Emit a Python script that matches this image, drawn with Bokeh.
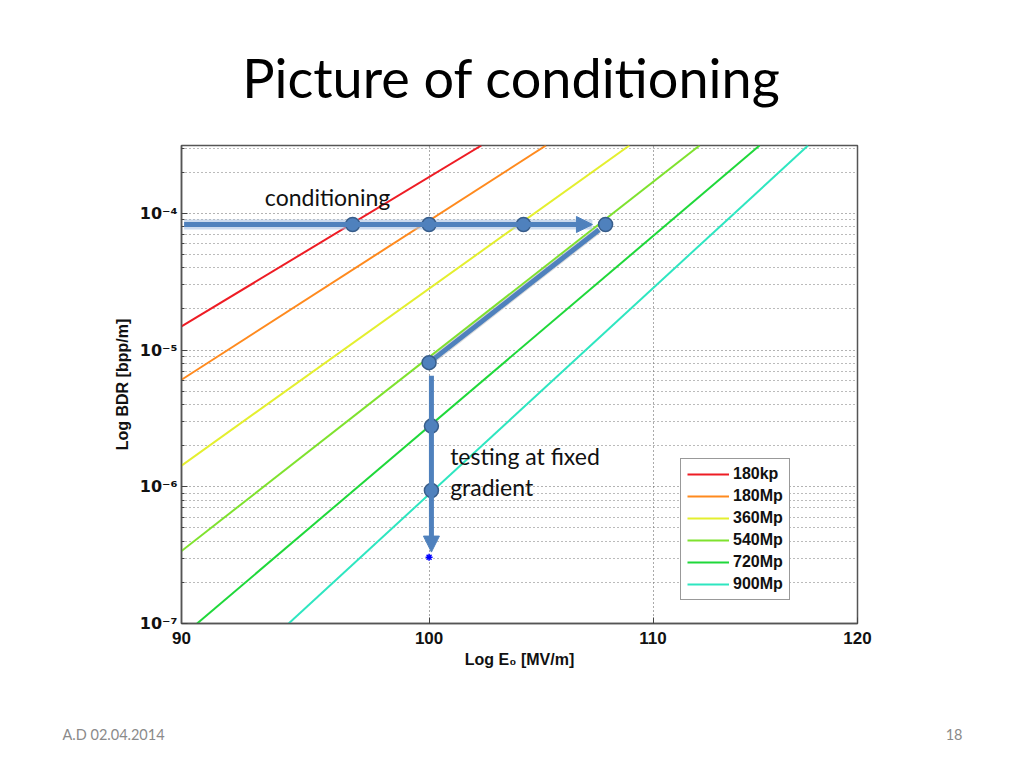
from bokeh.plotting import figure
from bokeh.models import Range1d, FixedTicker, Label, Legend, LegendItem, Arrow, NormalHead
from bokeh.embed import file_html
from bokeh.resources import INLINE

# pulse-count curves, two points: E0 [MV/m] and BDR [bpp/m]
series_names = ["180kp", "180Mp", "360Mp", "540Mp", "720Mp", "900Mp"]
series_colors = ["#ee1c24", "#ff8a1e", "#e4ef2f", "#7fe22e", "#1fd83a", "#2ee6c0"]
line_e = [[90, 102.25], [90, 105.1], [90, 108.9], [90, 112.2], [90.6, 115.1], [94.2, 117.5]]
line_bdr = [[1.49e-5, 3.14e-4], [6.07e-6, 3.14e-4], [1.43e-6, 3.14e-4],
            [3.39e-7, 3.14e-4], [1.0e-7, 3.14e-4], [1.0e-7, 3.14e-4]]

# conditioning path (horizontal), then back down and testing at fixed gradient
cond_e = [96.8, 100.0, 104.1, 107.8]
cond_bdr = [8.3e-5, 8.3e-5, 8.3e-5, 8.3e-5]
cond_arrow_e = [90.1, 107.2]
cond_arrow_bdr = [8.3e-5, 8.3e-5]
back_e = [100.0, 107.5]
back_bdr = [8.1e-6, 7.6e-5]
test_e = [100.0, 100.1, 100.1]
test_bdr = [8.1e-6, 2.78e-6, 9.4e-7]
test_arrow_e = [100.1, 100.1]
test_arrow_bdr = [6.5e-6, 3.33e-7]
star_e = [100.0]
star_bdr = [3.05e-7]

x_ticks = [90, 100, 110, 120]
y_ticks = [1e-7, 1e-6, 1e-5, 1e-4]
y_tick_labels = ["10⁻⁷", "10⁻⁶", "10⁻⁵", "10⁻⁴"]
y_minor = [k * d for d in [1e-7, 1e-6, 1e-5, 1e-4] for k in range(2, 10)]

BLUE = "#4f81bd"
BLUE_DARK = "#385d8a"
AX_FONT = "Liberation Sans"
SLIDE_FONT = "Lato"

p = figure(width=1008, height=752, x_axis_type="log", y_axis_type="log",
           x_range=Range1d(90, 120), y_range=Range1d(1e-7, 3.14e-4),
           output_backend="svg", toolbar_location=None,
           min_border_left=181, min_border_right=151, min_border_top=145, min_border_bottom=129)
p.background_fill_color = "white"
p.border_fill_color = "white"
p.outline_line_color = "#555555"
p.outline_line_width = 1.5

p.xaxis.ticker = FixedTicker(ticks=x_ticks)
p.yaxis.ticker = FixedTicker(ticks=y_ticks, minor_ticks=y_minor)
p.yaxis.major_label_overrides = dict(zip(y_ticks, y_tick_labels))
p.xaxis.major_label_overrides = {t: str(t) for t in x_ticks}

for ax in (p.xaxis, p.yaxis):
    ax.axis_line_color = "#555555"
    ax.axis_line_width = 1.5
    ax.major_tick_in = 6
    ax.major_tick_out = 0
    ax.major_tick_line_color = "#444444"
    ax.minor_tick_in = 3
    ax.minor_tick_out = 0
    ax.minor_tick_line_color = "#444444"
    ax.major_label_text_font = AX_FONT
    ax.major_label_text_font_style = "bold"
    ax.major_label_text_font_size = "17px"
    ax.major_label_text_color = "#111111"
    ax.axis_label_text_font = AX_FONT
    ax.axis_label_text_font_style = "bold"
    ax.axis_label_text_font_size = "16px"
    ax.axis_label_text_color = "#111111"

p.yaxis.major_label_text_font = "DejaVu Sans"
p.yaxis.major_label_text_font_size = "16px"
p.xaxis.axis_label = "Log E₀ [MV/m]"
p.xaxis.major_label_standoff = 8
p.xaxis.axis_label_standoff = 4
p.yaxis.axis_label = "Log BDR [bpp/m]"
p.yaxis.major_label_standoff = 4
p.yaxis.axis_label_standoff = 6

p.xgrid.grid_line_color = "#555555"
p.xgrid.grid_line_dash = "1 3"
p.ygrid.grid_line_color = "#666666"
p.ygrid.grid_line_dash = "1 3"
p.ygrid.minor_grid_line_color = "#777777"
p.ygrid.minor_grid_line_dash = "1 3"

items = []
for name, color, xs, ys in zip(series_names, series_colors, line_e, line_bdr):
    r = p.line(xs, ys, line_color=color, line_width=2)
    items.append(LegendItem(label=name, renderers=[r]))

legend = Legend(items=items, location=(499, 23), glyph_width=42, glyph_height=18,
                label_height=18, spacing=4, padding=6, margin=0, label_standoff=4,
                label_text_font=AX_FONT, label_text_font_style="bold",
                label_text_font_size="16px", label_text_color="#111111",
                border_line_color="#333333", border_line_width=1.5,
                background_fill_color="white", background_fill_alpha=1.0)
p.add_layout(legend, "center")

# conditioning arrow with soft glow
p.line(cond_arrow_e, cond_arrow_bdr, line_color="#a9c2e2", line_width=10, line_alpha=0.6)
p.add_layout(Arrow(end=NormalHead(size=16, fill_color=BLUE, line_color=BLUE),
                   x_start=cond_arrow_e[0], y_start=cond_arrow_bdr[0],
                   x_end=cond_arrow_e[1], y_end=cond_arrow_bdr[1],
                   line_color=BLUE, line_width=5))
p.line(back_e, back_bdr, line_color="#b8b8b8", line_width=7, line_alpha=0.5)
p.line(back_e, back_bdr, line_color=BLUE, line_width=5)
p.add_layout(Arrow(end=NormalHead(size=16, fill_color=BLUE, line_color=BLUE),
                   x_start=test_arrow_e[0], y_start=test_arrow_bdr[0],
                   x_end=test_arrow_e[1], y_end=test_arrow_bdr[1],
                   line_color=BLUE, line_width=5))
p.scatter(cond_e, cond_bdr, size=14, fill_color=BLUE, line_color=BLUE_DARK, line_width=1.5)
p.scatter(test_e, test_bdr, size=14, fill_color=BLUE, line_color=BLUE_DARK, line_width=1.5)
p.scatter(star_e, star_bdr, marker="asterisk", size=7, line_color="#0000ff", line_width=1.5)

p.add_layout(Label(x=93.25, y=1.31e-4, text="conditioning", text_font=SLIDE_FONT,
                   text_font_size="23px", text_baseline="middle", text_color="#111111"))
p.add_layout(Label(x=100.9, y=1.69e-6, text="testing at fixed", text_font=SLIDE_FONT,
                   text_font_size="23px", text_baseline="middle", text_color="#111111"))
p.add_layout(Label(x=100.9, y=1.0e-6, text="gradient", text_font=SLIDE_FONT,
                   text_font_size="23px", text_baseline="middle", text_color="#111111"))

# slide texts live in the border panels, placed in canvas pixels
p.add_layout(Label(x=511, y=77, x_units="canvas", y_units="canvas", text="Picture of conditioning",
                   text_font=SLIDE_FONT, text_font_size="54px", text_align="center",
                   text_baseline="middle", text_color="#000000"), "above")
p.add_layout(Label(x=62, y=734, x_units="canvas", y_units="canvas", text="A.D 02.04.2014",
                   text_font=SLIDE_FONT, text_font_size="14.5px", text_baseline="middle",
                   text_color="#8a8a8a"), "below")
p.add_layout(Label(x=962, y=734, x_units="canvas", y_units="canvas", text="18",
                   text_font=SLIDE_FONT, text_font_size="14.5px", text_align="right",
                   text_baseline="middle", text_color="#8a8a8a"), "below")

open("out.html", "w").write(file_html(p, INLINE))
